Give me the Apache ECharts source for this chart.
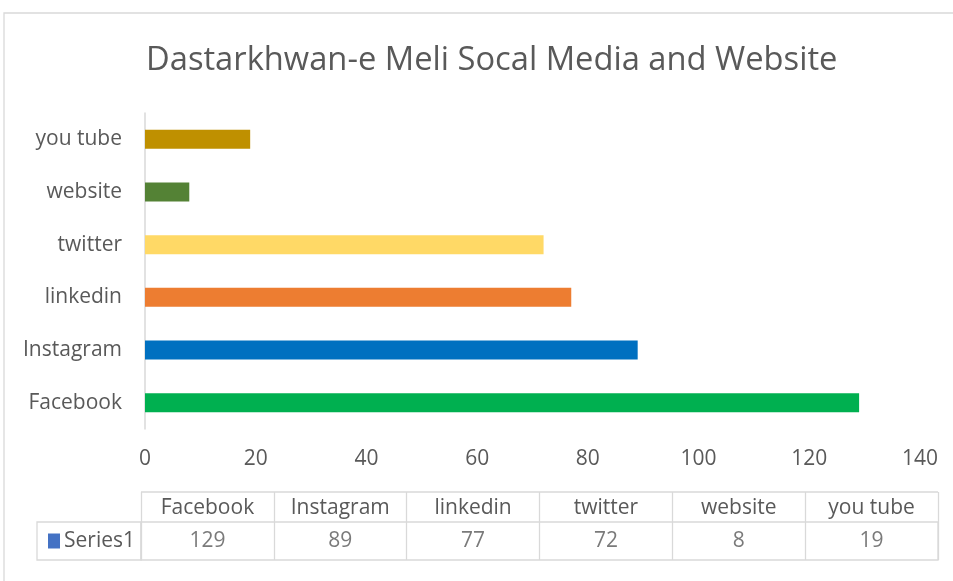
<!DOCTYPE html>
<html>
<head>
<meta charset="utf-8">
<script src="https://cdn.jsdelivr.net/npm/echarts@6/dist/echarts.min.js"></script>
<style>html,body{margin:0;padding:0;background:#fff}#c{width:953px;height:581px}</style>
</head>
<body>
<div id="c"></div>
<script>
const titleText = 'Dastarkhwan-e Meli Socal Media and Website';
const categories = ['Facebook', 'Instagram', 'linkedin', 'twitter', 'website', 'you tube'];
const values = [129, 89, 77, 72, 8, 19];
const barColors = ['#00B050', '#0070C0', '#ED7D31', '#FFD966', '#548235', '#BF9000'];
const seriesName = 'Series1';
const xTicks = { min: 0, max: 140, interval: 20 };

const FONT = 'Open Sans';
const TXT = '#595959';
const LINE = '#d9d9d9';

const chart = echarts.init(document.getElementById('c'), null, { renderer: 'canvas' });
chart.setOption({
  backgroundColor: '#fff',
  animation: false,
  textStyle: { fontFamily: FONT },
  title: {
    text: titleText, left: 141, top: 39,
    textStyle: { fontFamily: FONT, fontSize: 32.7, fontWeight: 'normal', color: TXT }
  },
  grid: [
    { left: 145, right: 33, top: 113, bottom: 152, containLabel: false },
    { left: 141, right: 15, top: 522, height: 38, show: true, borderColor: LINE, borderWidth: 1.3, containLabel: false }
  ],
  xAxis: [
    {
      gridIndex: 0, type: 'value', min: xTicks.min, max: xTicks.max, interval: xTicks.interval,
      axisLine: { show: false }, axisTick: { show: false }, splitLine: { show: false },
      axisLabel: { color: TXT, fontSize: 21, fontFamily: FONT, margin: 20 }
    },
    {
      gridIndex: 1, type: 'category', data: categories, position: 'top',
      axisLine: { show: false },
      axisTick: { show: true, length: 30, inside: false, alignWithLabel: false, lineStyle: { color: LINE, width: 1.3 } },
      splitLine: { show: true, lineStyle: { color: LINE, width: 1.3 } },
      axisLabel: { color: TXT, fontSize: 21, fontFamily: FONT, margin: 3, interval: 0 }
    }
  ],
  yAxis: [
    {
      gridIndex: 0, type: 'category', data: categories,
      axisLine: { show: true, lineStyle: { color: LINE, width: 1.5 } },
      axisTick: { show: false },
      axisLabel: { color: TXT, fontSize: 21, fontFamily: FONT, margin: 23 }
    },
    {
      gridIndex: 1, type: 'category', data: [seriesName],
      axisLine: { show: false }, axisTick: { show: false },
      axisLabel: {
        margin: 6, fontSize: 21, fontFamily: FONT, color: TXT,
        formatter: v => '{sq|}{gap|}' + v,
        rich: {
          sq: { width: 12, height: 15, backgroundColor: '#4472C4' },
          gap: { width: 4 }
        }
      }
    }
  ],
  graphic: [
    { type: 'rect', shape: { x: 4, y: 13, width: 1000, height: 620 }, style: { fill: 'none', stroke: LINE, lineWidth: 1.3 }, silent: true },
    { type: 'line', shape: { x1: 141, y1: 492, x2: 938, y2: 492 }, style: { stroke: LINE, lineWidth: 1.3 }, silent: true },
    { type: 'rect', shape: { x: 37, y: 522, width: 104, height: 38 }, style: { fill: 'none', stroke: LINE, lineWidth: 1.3 }, silent: true }
  ],
  series: [
    {
      type: 'bar', xAxisIndex: 0, yAxisIndex: 0, barWidth: 19,
      data: values.map((v, i) => ({ value: v, itemStyle: { color: barColors[i] } }))
    },
    {
      type: 'scatter', xAxisIndex: 1, yAxisIndex: 1, symbolSize: 0,
      data: values.map((v, i) => [categories[i], seriesName, v]),
      label: { show: true, position: 'inside', formatter: p => String(p.value[2]), color: TXT, fontSize: 21, fontFamily: FONT }
    }
  ]
});
</script>
</body>
</html>
